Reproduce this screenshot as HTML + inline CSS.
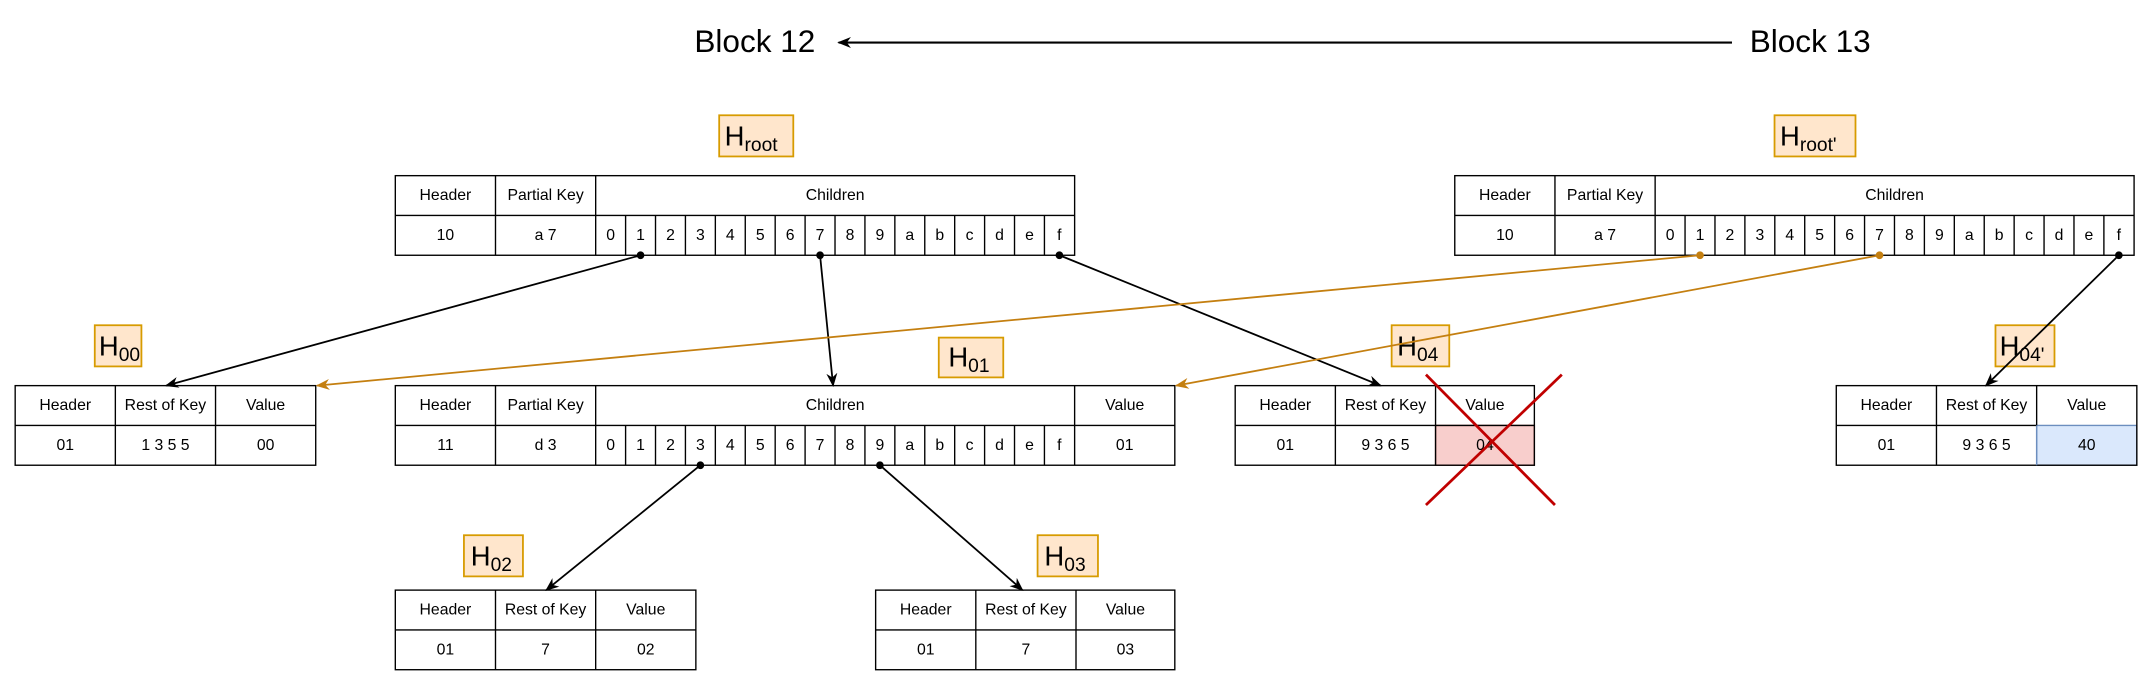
<!DOCTYPE html>
<html><head><meta charset="utf-8"><style>
html,body{margin:0;padding:0;background:#fff;}
svg{display:block;}
text{font-family:"Liberation Sans",sans-serif;fill:#000;}
.t{font-size:11.5px;text-anchor:middle;dominant-baseline:central;}
.b{fill:none;stroke:#000;stroke-width:1;}
.lbl{fill:#ffe6cc;stroke:#d79b00;stroke-width:1.3;}
.h{font-size:20px;}
.s{font-size:14px;}
</style></head><body>
<svg width="2152" height="687" viewBox="0 0 1568 500.6" xmlns="http://www.w3.org/2000/svg">
<defs>
<marker id="ab" markerWidth="10" markerHeight="10" refX="9" refY="5" orient="auto" markerUnits="userSpaceOnUse"><path d="M0,1 L10,5 L0,9 L3,5 z" fill="#000"/></marker>
<marker id="ao" markerWidth="10" markerHeight="10" refX="9" refY="5" orient="auto" markerUnits="userSpaceOnUse"><path d="M0,1 L10,5 L0,9 L3,5 z" fill="#c47f10"/></marker>
</defs>
<rect width="1568" height="500.6" fill="#fff"/>

<!-- Blocks -->
<text x="550" y="38" font-size="23" text-anchor="middle">Block 12</text>
<text x="1319" y="38" font-size="23" text-anchor="middle">Block 13</text>
<line x1="1262" y1="31" x2="611" y2="31" stroke="#000" stroke-width="1.5" marker-end="url(#ab)"/>

<!-- Root table -->
<g id="root">
<rect class="b" x="288" y="128" width="495" height="58"/>
<line class="b" x1="288" y1="157" x2="783" y2="157"/>
<line class="b" x1="361" y1="128" x2="361" y2="186"/>
<line class="b" x1="434" y1="128" x2="434" y2="186"/>
<path class="b" d="M455.8 157V186M477.6 157V186M499.4 157V186M521.2 157V186M543 157V186M564.8 157V186M586.6 157V186M608.4 157V186M630.2 157V186M652 157V186M673.8 157V186M695.6 157V186M717.4 157V186M739.2 157V186M761 157V186"/>
<text class="t" x="324.5" y="142.5">Header</text>
<text class="t" x="397.5" y="142.5">Partial Key</text>
<text class="t" x="608.5" y="142.5">Children</text>
<text class="t" x="324.5" y="171.5">10</text>
<text class="t" x="397.5" y="171.5">a 7</text>
<g class="t">
<text class="t" x="444.9" y="171.5">0</text><text class="t" x="466.7" y="171.5">1</text><text class="t" x="488.5" y="171.5">2</text><text class="t" x="510.3" y="171.5">3</text><text class="t" x="532.1" y="171.5">4</text><text class="t" x="553.9" y="171.5">5</text><text class="t" x="575.7" y="171.5">6</text><text class="t" x="597.5" y="171.5">7</text><text class="t" x="619.3" y="171.5">8</text><text class="t" x="641.1" y="171.5">9</text><text class="t" x="662.9" y="171.5">a</text><text class="t" x="684.7" y="171.5">b</text><text class="t" x="706.5" y="171.5">c</text><text class="t" x="728.3" y="171.5">d</text><text class="t" x="750.1" y="171.5">e</text><text class="t" x="771.9" y="171.5">f</text>
</g>
</g>

<!-- Root' table -->
<g transform="translate(772,0)">
<rect class="b" x="288" y="128" width="495" height="58"/>
<line class="b" x1="288" y1="157" x2="783" y2="157"/>
<line class="b" x1="361" y1="128" x2="361" y2="186"/>
<line class="b" x1="434" y1="128" x2="434" y2="186"/>
<path class="b" d="M455.8 157V186M477.6 157V186M499.4 157V186M521.2 157V186M543 157V186M564.8 157V186M586.6 157V186M608.4 157V186M630.2 157V186M652 157V186M673.8 157V186M695.6 157V186M717.4 157V186M739.2 157V186M761 157V186"/>
<text class="t" x="324.5" y="142.5">Header</text>
<text class="t" x="397.5" y="142.5">Partial Key</text>
<text class="t" x="608.5" y="142.5">Children</text>
<text class="t" x="324.5" y="171.5">10</text>
<text class="t" x="397.5" y="171.5">a 7</text>
<text class="t" x="444.9" y="171.5">0</text><text class="t" x="466.7" y="171.5">1</text><text class="t" x="488.5" y="171.5">2</text><text class="t" x="510.3" y="171.5">3</text><text class="t" x="532.1" y="171.5">4</text><text class="t" x="553.9" y="171.5">5</text><text class="t" x="575.7" y="171.5">6</text><text class="t" x="597.5" y="171.5">7</text><text class="t" x="619.3" y="171.5">8</text><text class="t" x="641.1" y="171.5">9</text><text class="t" x="662.9" y="171.5">a</text><text class="t" x="684.7" y="171.5">b</text><text class="t" x="706.5" y="171.5">c</text><text class="t" x="728.3" y="171.5">d</text><text class="t" x="750.1" y="171.5">e</text><text class="t" x="771.9" y="171.5">f</text>
</g>

<!-- H01 table -->
<g transform="translate(0,153)">
<rect class="b" x="288" y="128" width="568" height="58"/>
<line class="b" x1="288" y1="157" x2="856" y2="157"/>
<line class="b" x1="361" y1="128" x2="361" y2="186"/>
<line class="b" x1="434" y1="128" x2="434" y2="186"/>
<line class="b" x1="783" y1="128" x2="783" y2="186"/>
<path class="b" d="M455.8 157V186M477.6 157V186M499.4 157V186M521.2 157V186M543 157V186M564.8 157V186M586.6 157V186M608.4 157V186M630.2 157V186M652 157V186M673.8 157V186M695.6 157V186M717.4 157V186M739.2 157V186M761 157V186"/>
<text class="t" x="324.5" y="142.5">Header</text>
<text class="t" x="397.5" y="142.5">Partial Key</text>
<text class="t" x="608.5" y="142.5">Children</text>
<text class="t" x="819.5" y="142.5">Value</text>
<text class="t" x="324.5" y="171.5">11</text>
<text class="t" x="397.5" y="171.5">d 3</text>
<text class="t" x="819.5" y="171.5">01</text>
<text class="t" x="444.9" y="171.5">0</text><text class="t" x="466.7" y="171.5">1</text><text class="t" x="488.5" y="171.5">2</text><text class="t" x="510.3" y="171.5">3</text><text class="t" x="532.1" y="171.5">4</text><text class="t" x="553.9" y="171.5">5</text><text class="t" x="575.7" y="171.5">6</text><text class="t" x="597.5" y="171.5">7</text><text class="t" x="619.3" y="171.5">8</text><text class="t" x="641.1" y="171.5">9</text><text class="t" x="662.9" y="171.5">a</text><text class="t" x="684.7" y="171.5">b</text><text class="t" x="706.5" y="171.5">c</text><text class="t" x="728.3" y="171.5">d</text><text class="t" x="750.1" y="171.5">e</text><text class="t" x="771.9" y="171.5">f</text>
</g>

<!-- H00 table -->
<g>
<rect class="b" x="11" y="281" width="219" height="58"/>
<line class="b" x1="11" y1="310" x2="230" y2="310"/>
<line class="b" x1="84" y1="281" x2="84" y2="339"/>
<line class="b" x1="157" y1="281" x2="157" y2="339"/>
<text class="t" x="47.5" y="295.5">Header</text><text class="t" x="120.5" y="295.5">Rest of Key</text><text class="t" x="193.5" y="295.5">Value</text>
<text class="t" x="47.5" y="324.5">01</text><text class="t" x="120.5" y="324.5">1 3 5 5</text><text class="t" x="193.5" y="324.5">00</text>
</g>

<!-- H04 table -->
<g>
<rect x="1046" y="310" width="72" height="29" fill="#f8cecc" stroke="#b85450"/>
<rect class="b" x="900" y="281" width="218" height="58"/>
<line class="b" x1="900" y1="310" x2="1046" y2="310"/>
<line class="b" x1="1046" y1="310" x2="1118" y2="310"/>
<line class="b" x1="973" y1="281" x2="973" y2="339"/>
<line class="b" x1="1046" y1="281" x2="1046" y2="339"/>
<text class="t" x="936.5" y="295.5">Header</text><text class="t" x="1009.5" y="295.5">Rest of Key</text><text class="t" x="1082" y="295.5">Value</text>
<text class="t" x="936.5" y="324.5">01</text><text class="t" x="1009.5" y="324.5">9 3 6 5</text><text class="t" x="1082" y="324.5">04</text>
</g>

<!-- H04' table -->
<g>
<rect x="1484" y="310" width="73" height="29" fill="#dae8fc" stroke="#6c8ebf"/>
<rect class="b" x="1338" y="281" width="219" height="58"/>
<line class="b" x1="1338" y1="310" x2="1484" y2="310"/>
<line class="b" x1="1411" y1="281" x2="1411" y2="339"/>
<line class="b" x1="1484" y1="281" x2="1484" y2="310"/>
<line x1="1484" y1="310" x2="1484" y2="339" stroke="#6c8ebf"/>
<text class="t" x="1374.5" y="295.5">Header</text><text class="t" x="1447.5" y="295.5">Rest of Key</text><text class="t" x="1520.5" y="295.5">Value</text>
<text class="t" x="1374.5" y="324.5">01</text><text class="t" x="1447.5" y="324.5">9 3 6 5</text><text class="t" x="1520.5" y="324.5">40</text>
</g>

<!-- H02 table -->
<g>
<rect class="b" x="288" y="430" width="219" height="58"/>
<line class="b" x1="288" y1="459" x2="507" y2="459"/>
<line class="b" x1="361" y1="430" x2="361" y2="488"/>
<line class="b" x1="434" y1="430" x2="434" y2="488"/>
<text class="t" x="324.5" y="444.5">Header</text><text class="t" x="397.5" y="444.5">Rest of Key</text><text class="t" x="470.5" y="444.5">Value</text>
<text class="t" x="324.5" y="473.5">01</text><text class="t" x="397.5" y="473.5">7</text><text class="t" x="470.5" y="473.5">02</text>
</g>

<!-- H03 table -->
<g>
<rect class="b" x="638" y="430" width="218" height="58"/>
<line class="b" x1="638" y1="459" x2="856" y2="459"/>
<line class="b" x1="711" y1="430" x2="711" y2="488"/>
<line class="b" x1="784" y1="430" x2="784" y2="488"/>
<text class="t" x="674.5" y="444.5">Header</text><text class="t" x="747.5" y="444.5">Rest of Key</text><text class="t" x="820" y="444.5">Value</text>
<text class="t" x="674.5" y="473.5">01</text><text class="t" x="747.5" y="473.5">7</text><text class="t" x="820" y="473.5">03</text>
</g>

<!-- Labels -->
<rect class="lbl" x="524" y="84" width="54" height="30"/>
<text x="528" y="106" class="h">H<tspan class="s" dy="4">root</tspan></text>
<rect class="lbl" x="1293" y="84" width="59" height="30"/>
<text x="1297" y="106" class="h">H<tspan class="s" dy="4">root'</tspan></text>
<rect class="lbl" x="69" y="237" width="34" height="30"/>
<text x="72" y="259" class="h">H<tspan class="s" dy="4">00</tspan></text>
<rect class="lbl" x="684" y="246" width="47" height="29"/>
<text x="691" y="267" class="h">H<tspan class="s" dy="4">01</tspan></text>
<rect class="lbl" x="1014" y="237" width="42" height="30"/>
<text x="1018" y="259" class="h">H<tspan class="s" dy="4">04</tspan></text>
<rect class="lbl" x="1454" y="237" width="43" height="30"/>
<text x="1457" y="259" class="h">H<tspan class="s" dy="4">04'</tspan></text>
<rect class="lbl" x="338" y="390" width="43" height="30"/>
<text x="343" y="412" class="h">H<tspan class="s" dy="4">02</tspan></text>
<rect class="lbl" x="756" y="390" width="44" height="30"/>
<text x="761" y="412" class="h">H<tspan class="s" dy="4">03</tspan></text>

<!-- Connectors -->
<g stroke-width="1.3" fill="none">
<line x1="466.7" y1="186" x2="121" y2="281" stroke="#000" marker-end="url(#ab)"/>
<line x1="597.5" y1="186" x2="607" y2="281" stroke="#000" marker-end="url(#ab)"/>
<line x1="771.9" y1="186" x2="1006" y2="281" stroke="#000" marker-end="url(#ab)"/>
<line x1="1238.7" y1="186" x2="231" y2="281" stroke="#c47f10" marker-end="url(#ao)"/>
<line x1="1369.5" y1="186" x2="857" y2="281" stroke="#c47f10" marker-end="url(#ao)"/>
<line x1="1543.9" y1="186" x2="1447" y2="281" stroke="#000" marker-end="url(#ab)"/>
<line x1="510.3" y1="339" x2="398" y2="430" stroke="#000" marker-end="url(#ab)"/>
<line x1="641.1" y1="339" x2="745" y2="430" stroke="#000" marker-end="url(#ab)"/>
</g>
<g>
<circle cx="466.7" cy="186" r="2.8" fill="#000"/>
<circle cx="597.5" cy="186" r="2.8" fill="#000"/>
<circle cx="771.9" cy="186" r="2.8" fill="#000"/>
<circle cx="1238.7" cy="186" r="2.8" fill="#c47f10"/>
<circle cx="1369.5" cy="186" r="2.8" fill="#c47f10"/>
<circle cx="1543.9" cy="186" r="2.8" fill="#000"/>
<circle cx="510.3" cy="339" r="2.8" fill="#000"/>
<circle cx="641.1" cy="339" r="2.8" fill="#000"/>
</g>

<!-- Red X -->
<line x1="1039" y1="273" x2="1133" y2="368" stroke="#c00000" stroke-width="2"/>
<line x1="1138" y1="273" x2="1039" y2="368" stroke="#c00000" stroke-width="2"/>
</svg>
</body></html>
